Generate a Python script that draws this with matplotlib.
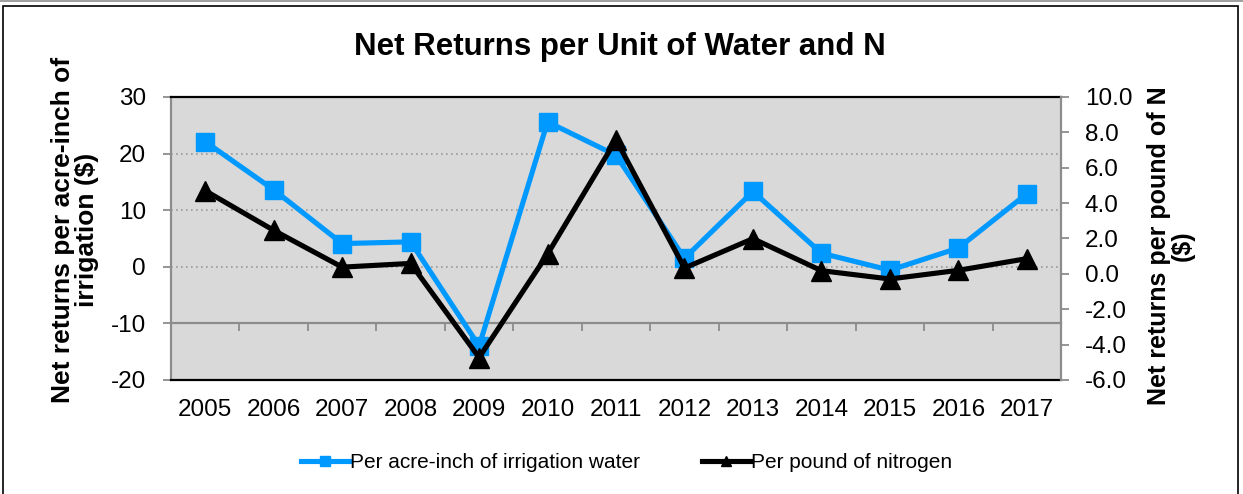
import matplotlib
matplotlib.use("Agg")
import matplotlib.pyplot as plt
from matplotlib.patches import Rectangle
import numpy as np

plt.rcParams['font.family'] = ['Liberation Sans', 'DejaVu Sans']

years = ['2005', '2006', '2007', '2008', '2009', '2010', '2011',
         '2012', '2013', '2014', '2015', '2016', '2017']
water = [22.1, 13.6, 4.1, 4.4, -14.0, 25.6, 19.7, 1.5, 13.3, 2.4, -0.6, 3.3, 12.9]
nitrogen = [4.7, 2.46, 0.38, 0.59, -4.73, 1.12, 7.58, 0.33, 1.99, 0.18, -0.29, 0.2, 0.86]

left_ticks = [-20, -10, 0, 10, 20, 30]
right_ticks = [-6, -4, -2, 0, 2, 4, 6, 8, 10]

title = 'Net Returns per Unit of Water and N'
left_label = 'Net returns per acre-inch of\nirrigation ($)'
right_label = 'Net returns per pound of N\n($)'
water_name = 'Per acre-inch of irrigation water'
nitrogen_name = 'Per pound of nitrogen'

blue = '#0099FF'
gray = '#8c8c8c'

fig = plt.figure(figsize=(12.43, 4.94), dpi=100)
fig.patches.append(Rectangle((0.0025, -0.01), 0.9935, 0.998, transform=fig.transFigure,
                             fill=False, edgecolor='black', linewidth=1.2, zorder=0))
fig.patches.append(Rectangle((0.0, 0.996), 1.0, 0.004, transform=fig.transFigure,
                             facecolor='#a0a0a0', edgecolor='none', zorder=0))

ax = fig.add_axes([0.1376, 0.2308, 0.716, 0.5729])
ax.set_facecolor('#d9d9d9')
x = np.arange(len(years))
ax.set_xlim(-0.5, len(years) - 0.5)
ax.set_ylim(left_ticks[0], left_ticks[-1])
ax.set_yticks(left_ticks)
ax.set_yticklabels([str(t) for t in left_ticks])
ax.tick_params(axis='y', direction='out', length=6, width=1.3, color=gray,
               labelsize=17.5, pad=12)
ax.set_xticks(x)
ax.set_xticklabels(years)
ax.tick_params(axis='x', length=0, labelsize=17.5, pad=14)

for t in [20, 10, 0]:
    ax.axhline(t, color='#9a9a9a', linestyle=(0, (1, 2)), linewidth=1.2, zorder=1)

for side in ['top', 'bottom']:
    ax.spines[side].set_color('black')
    ax.spines[side].set_linewidth(1.6)
ax.spines['left'].set_color(gray)
ax.spines['left'].set_linewidth(1.6)
ax.spines['right'].set_visible(False)

# category axis crossing at -10
sec = ax.secondary_xaxis((-10 - left_ticks[0]) / (left_ticks[-1] - left_ticks[0]))
sec.set_xticks(np.arange(len(years) + 1) - 0.5)
sec.set_xticklabels([])
sec.tick_params(direction='out', length=6, width=1.3, color=gray)
sec.spines['bottom'].set_color(gray)
sec.spines['bottom'].set_linewidth(1.6)

ax2 = ax.twinx()
ax2.set_ylim(right_ticks[0], right_ticks[-1])
ax2.set_yticks(right_ticks)
ax2.set_yticklabels([f'{t:.1f}' for t in right_ticks])
ax2.tick_params(axis='y', direction='out', length=6, width=1.3, color=gray,
                labelsize=17.5, pad=11)
ax2.spines['right'].set_color(gray)
ax2.spines['right'].set_linewidth(1.6)
for side in ['top', 'bottom', 'left']:
    ax2.spines[side].set_visible(False)

l1, = ax.plot(x, water, color=blue, linewidth=3.7, marker='s', markersize=13,
              markerfacecolor=blue, markeredgecolor=blue, zorder=3, clip_on=False,
              label=water_name)
l2, = ax2.plot(x, nitrogen, color='black', linewidth=3.7, marker='^', markersize=15,
               markerfacecolor='black', markeredgecolor='black', zorder=4, clip_on=False,
               label=nitrogen_name)

fig.text(0.4988, 0.904, title, ha='center', va='center', fontsize=22.5, fontweight='bold')
fig.text(0.060, 0.534, left_label, rotation=90, ha='center', va='center',
         multialignment='center', fontsize=19, fontweight='bold', linespacing=1.0)
fig.text(0.942, 0.503, right_label, rotation=90, ha='center', va='center',
         multialignment='center', fontsize=18, fontweight='bold', linespacing=1.0)

fig.legend(handles=[l1, l2], loc='center', bbox_to_anchor=(0.504, 0.063), ncol=2,
           frameon=False, fontsize=15, handlelength=2.3, handletextpad=0.05,
           columnspacing=3.0, markerscale=0.5)

fig.savefig('out.png', dpi=100)
